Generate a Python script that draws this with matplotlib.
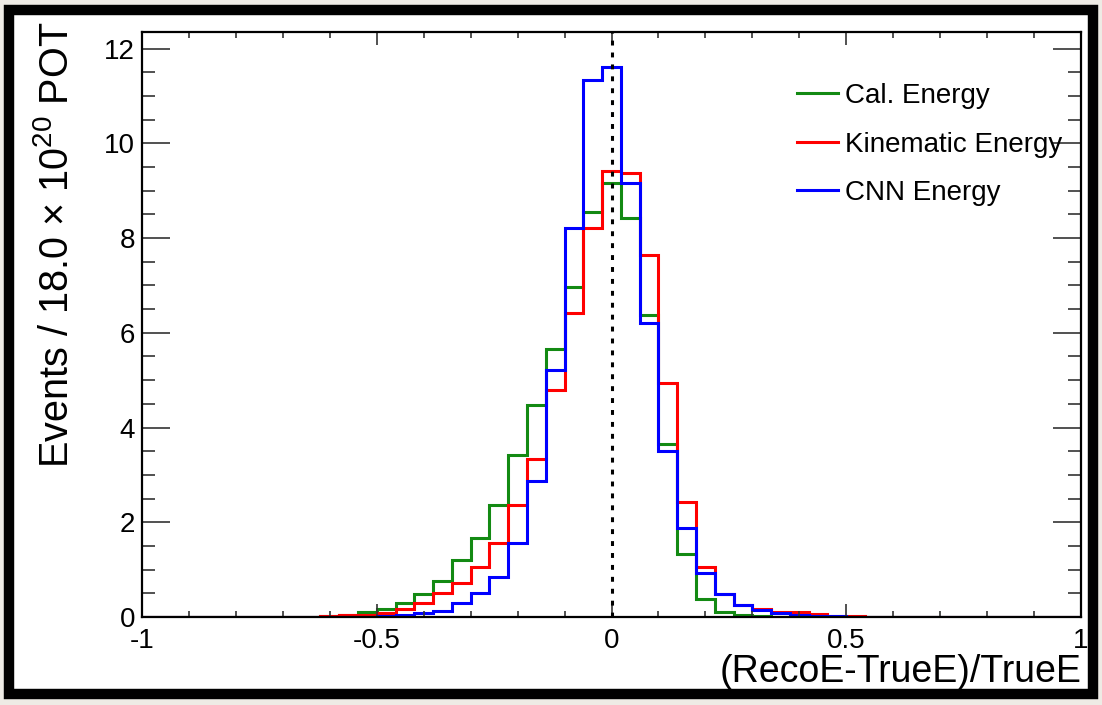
import numpy as np
import matplotlib
matplotlib.use("Agg")
import matplotlib.pyplot as plt
from matplotlib.patches import Rectangle
from matplotlib.ticker import MultipleLocator

plt.rcParams['font.family'] = ['Liberation Sans', 'DejaVu Sans']
plt.rcParams['mathtext.default'] = 'regular'
plt.rcParams['axes.unicode_minus'] = False

# bin centres -1.00 ... 1.00 in steps of 0.04 (51 bins)
bin_edges = np.linspace(-1.02, 1.02, 52)

cal_energy = [0, 0, 0, 0, 0, 0, 0, 0, 0,
              0.01, 0.02, 0.05, 0.11, 0.16, 0.30, 0.49, 0.77, 1.20, 1.66,
              2.36, 3.42, 4.47, 5.65, 6.97, 8.55, 9.16, 8.42, 6.37, 3.65,
              1.34, 0.39, 0.11, 0.04, 0.02, 0.01,
              0, 0, 0, 0, 0, 0, 0, 0, 0, 0, 0, 0, 0, 0, 0, 0]

kin_energy = [0, 0, 0, 0, 0, 0, 0, 0, 0,
              0.01, 0.02, 0.04, 0.05, 0.09, 0.16, 0.30, 0.50, 0.71, 1.06,
              1.57, 2.36, 3.33, 4.79, 6.41, 8.21, 9.42, 9.38, 7.64, 4.93,
              2.43, 1.06, 0.49, 0.25, 0.17, 0.11, 0.11, 0.07, 0.03, 0.02, 0.01,
              0, 0, 0, 0, 0, 0, 0, 0, 0, 0, 0]

cnn_energy = [0, 0, 0, 0, 0, 0, 0, 0, 0, 0, 0, 0,
              0.01, 0.02, 0.05, 0.09, 0.13, 0.30, 0.50, 0.85, 1.57, 2.88,
              5.21, 8.21, 11.34, 11.62, 9.16, 6.20, 3.51, 1.87, 0.92, 0.49,
              0.25, 0.15, 0.08, 0.05, 0.03, 0.02, 0.01,
              0, 0, 0, 0, 0, 0, 0, 0, 0, 0, 0, 0]

labels = ['Cal. Energy', 'Kinematic Energy', 'CNN Energy']
colors = ['#138a13', '#ff0000', '#0000ff']

fig = plt.figure(figsize=(11.02, 7.05), dpi=100)
fig.patch.set_facecolor('#eeebe5')
frame = Rectangle((9 / 1102, 11 / 705), 1084 / 1102, 684 / 705,
                  transform=fig.transFigure, facecolor='white',
                  edgecolor='black', linewidth=7.5, zorder=-5)
fig.add_artist(frame)

ax = fig.add_axes([142 / 1102, 88 / 705, 939 / 1102, 585 / 705])
ax.set_facecolor('white')

for vals, lab, col in zip([cal_energy, kin_energy, cnn_energy], labels, colors):
    ax.stairs(vals, bin_edges, color=col, linewidth=2.2, label=lab, baseline=0)

ax.axvline(0, color='black', linewidth=2.2, linestyle=(0, (1.6, 2.3)), zorder=5)

ax.set_xlim(-1, 1)
ax.set_ylim(0, 12.35)
ax.xaxis.set_major_locator(MultipleLocator(0.5))
ax.xaxis.set_minor_locator(MultipleLocator(0.1))
ax.yaxis.set_major_locator(MultipleLocator(2))
ax.yaxis.set_minor_locator(MultipleLocator(0.5))
ax.set_xticks([-1, -0.5, 0, 0.5, 1])
ax.set_xticklabels(['-1', '-0.5', '0', '0.5', '1'])

ax.tick_params(axis='both', which='both', direction='in', top=True, right=True,
               labelsize=20, width=1.2, color='#333333')
ax.tick_params(axis='x', which='major', length=9.5, pad=8)
ax.tick_params(axis='x', which='minor', length=4.5)
ax.tick_params(axis='y', which='major', length=20, pad=5)
ax.tick_params(axis='y', which='minor', length=9.6)
for sp in ax.spines.values():
    sp.set_linewidth(1.6)

ax.set_xlabel('(RecoE-TrueE)/TrueE', fontsize=27, loc='right', labelpad=0)
ax.set_ylabel('Events / 18.0 × 10$^{20}$ POT', fontsize=28.5,
              y=1.017, ha='right', labelpad=20)

leg = ax.legend(loc='upper left', bbox_to_anchor=(797 / 1102, 1 - 83 / 705),
                bbox_transform=fig.transFigure, frameon=False, fontsize=20,
                handlelength=1.47, handletextpad=0.25, labelspacing=0.81,
                borderpad=0, borderaxespad=0)
for h in leg.get_lines():
    h.set_linewidth(2.2)

fig.savefig('out.png', dpi=100, facecolor=fig.get_facecolor())
